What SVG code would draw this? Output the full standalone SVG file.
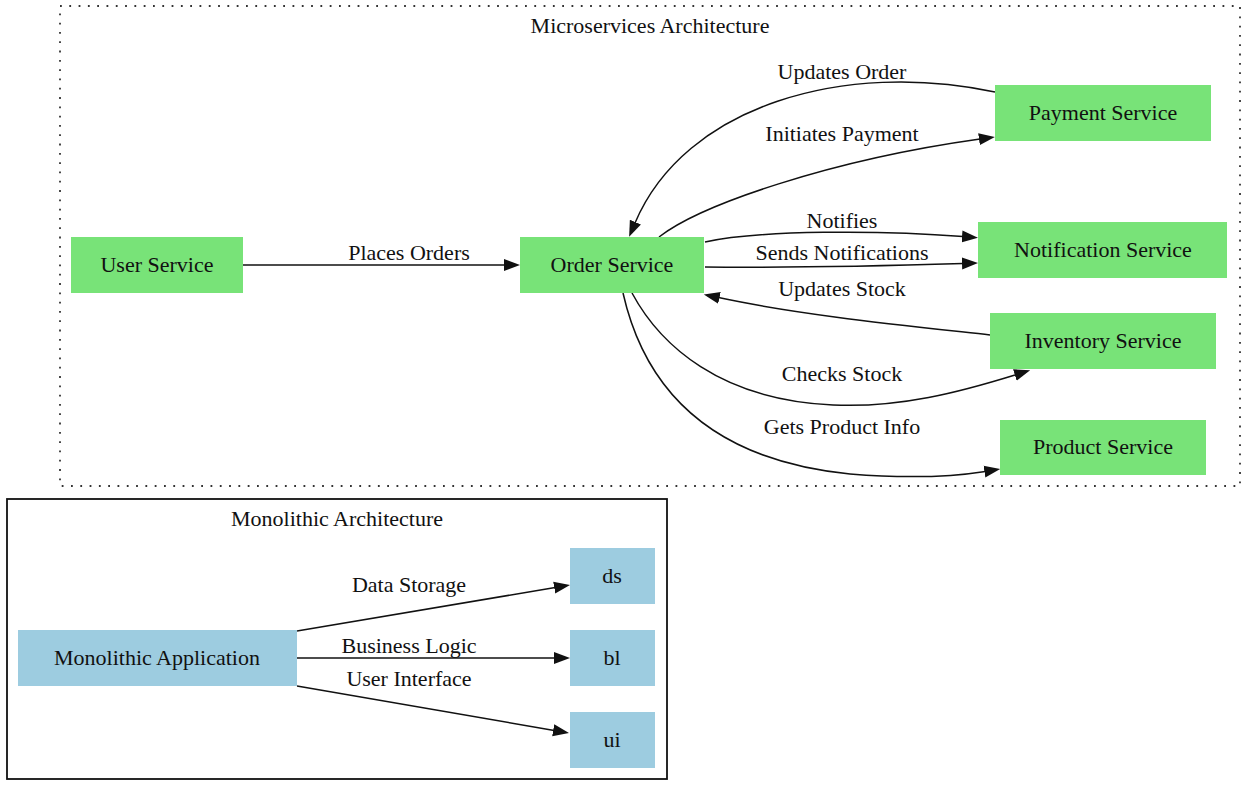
<svg xmlns="http://www.w3.org/2000/svg" width="1245" height="786" viewBox="0 0 1245 786">
<style>
text{font-family:"Liberation Serif","Times New Roman",serif;font-size:22px;fill:#111;text-anchor:middle}
.g{fill:#78e378}
.b{fill:#9dcce0}
.e{fill:none;stroke:#111;stroke-width:1.5;marker-end:url(#ah)}
</style>
<defs>
<marker id="ah" markerUnits="userSpaceOnUse" markerWidth="17" markerHeight="13" refX="1" refY="6" orient="auto" viewBox="0 0 17 12">
<path d="M0,0 L16,6 L0,12 z" fill="#111"/>
</marker>
</defs>
<rect width="1245" height="786" fill="#fff"/>
<g id="cluster_micro">
<rect x="60" y="6" width="1180" height="480" fill="none" stroke="#333" stroke-width="1.8" stroke-dasharray="1.8,7.5"/>
<text x="650" y="33">Microservices Architecture</text>
</g>
<g id="cluster_mono">
<rect x="7" y="499" width="660" height="280" fill="none" stroke="#111" stroke-width="1.8"/>
<text x="337" y="526">Monolithic Architecture</text>
</g>
<g id="edges">
<path class="e" d="M243,265 L505,265"/>
<text x="409" y="260">Places Orders</text>
<path class="e" d="M995,92 C845,60 685,105 635,223"/>
<text x="842" y="79">Updates Order</text>
<path class="e" d="M659,237 C700,205 830,160 980,139"/>
<text x="842" y="141">Initiates Payment</text>
<path class="e" d="M705,242 C760,230 880,230 963,236.5"/>
<text x="842" y="228">Notifies</text>
<path class="e" d="M705,267 C800,268 880,266 963,263.5"/>
<text x="842" y="260">Sends Notifications</text>
<path class="e" d="M990,335 C900,325 800,315 718.5,297.6"/>
<text x="842" y="296">Updates Stock</text>
<path class="e" d="M632,293 C660,345 720,400 833,405 C900,408 960,392 1015.8,374.7"/>
<text x="842" y="381">Checks Stock</text>
<path class="e" d="M623,293 C645,390 710,460 850,474 C900,478 950,477 985.4,471.4"/>
<text x="842" y="434">Gets Product Info</text>
<path class="e" d="M297,631 L555.2,587.5"/>
<text x="409" y="592">Data Storage</text>
<path class="e" d="M297,658 L555,658"/>
<text x="409" y="653">Business Logic</text>
<path class="e" d="M297,686 L554.2,730.4"/>
<text x="409" y="686">User Interface</text>
</g>
<g id="user_service"><rect class="g" x="71" y="237" width="172" height="56"/><text x="157" y="272">User Service</text></g>
<g id="order_service"><rect class="g" x="520" y="237" width="184" height="56"/><text x="612" y="272">Order Service</text></g>
<g id="payment_service"><rect class="g" x="995" y="85" width="216" height="56"/><text x="1103" y="120">Payment Service</text></g>
<g id="notification_service"><rect class="g" x="978" y="222" width="249" height="56"/><text x="1103" y="257">Notification Service</text></g>
<g id="inventory_service"><rect class="g" x="990" y="313" width="226" height="56"/><text x="1103" y="348">Inventory Service</text></g>
<g id="product_service"><rect class="g" x="1000" y="420" width="206" height="55"/><text x="1103" y="454">Product Service</text></g>
<g id="monolithic_app"><rect class="b" x="18" y="630" width="279" height="56"/><text x="157" y="665">Monolithic Application</text></g>
<g id="ds"><rect class="b" x="570" y="548" width="85" height="56"/><text x="612" y="583">ds</text></g>
<g id="bl"><rect class="b" x="570" y="630" width="85" height="56"/><text x="612" y="665">bl</text></g>
<g id="ui"><rect class="b" x="570" y="712" width="85" height="56"/><text x="612" y="747">ui</text></g>
</svg>
